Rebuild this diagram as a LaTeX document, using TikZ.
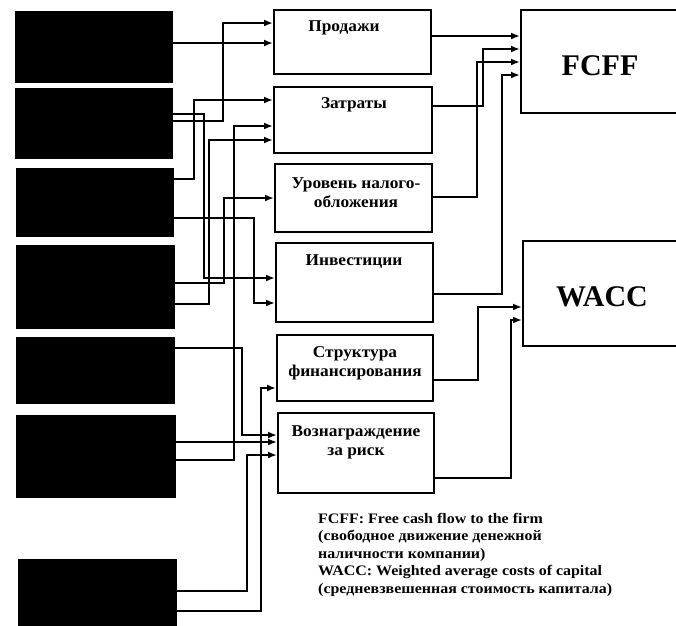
\documentclass[tikz,border=0pt]{standalone}
\usepackage{fontspec}
\setmainfont{Liberation Serif}
\newfontfamily\lblfont[FakeStretch=1.05]{Liberation Serif}
\newfontfamily\legfont[FakeStretch=1.1]{Liberation Serif}
\usetikzlibrary{arrows.meta}
\begin{document}
\begin{tikzpicture}[x=1pt,y=-1pt,
  blk/.style={draw=black,fill=black,inner sep=0pt,line width=1pt},
  wbox/.style={draw=black,fill=white,inner sep=0pt,line width=2pt},
  lbl/.style={font=\lblfont\fontsize{16.5}{19}\selectfont\bfseries,align=center,inner sep=0pt},
  big/.style={font=\fontsize{30}{34}\selectfont\bfseries,inner sep=0pt},
  legend/.style={font=\legfont\fontsize{14.5}{17.5}\selectfont\bfseries,align=left,inner sep=0pt},
  wire/.style={line width=2.2pt,-{Latex[length=9pt,width=7pt]}}
]
\useasboundingbox (0,0) rectangle (676,625);
% black source boxes
\node[blk,minimum width=157pt,minimum height=71pt] (b1) at (93.5,46.5) {};
\node[blk,minimum width=157pt,minimum height=70pt] (b2) at (93.5,123) {};
\node[blk,minimum width=157pt,minimum height=68pt] (b3) at (94.5,202) {};
\node[blk,minimum width=158pt,minimum height=83pt] (b4) at (95,286.5) {};
\node[blk,minimum width=158pt,minimum height=66pt] (b5) at (95,370) {};
\node[blk,minimum width=159pt,minimum height=82pt] (b6) at (95.5,456) {};
\node[blk,minimum width=158pt,minimum height=69pt] (b7) at (97,593.5) {};
% middle boxes
\node[wbox,minimum width=157pt,minimum height=64pt] (m1) at (352.5,42) {};
\node[wbox,minimum width=158pt,minimum height=66pt] (m2) at (353,120) {};
\node[wbox,minimum width=157pt,minimum height=68pt] (m3) at (353.5,198) {};
\node[wbox,minimum width=157pt,minimum height=79pt] (m4) at (354.5,282.5) {};
\node[wbox,minimum width=156pt,minimum height=66pt] (m5) at (355,368) {};
\node[wbox,minimum width=156pt,minimum height=80pt] (m6) at (356,453) {};
% result boxes
\node[wbox,minimum width=159pt,minimum height=103pt] (fcff) at (600.5,61.5) {};
\node[wbox,minimum width=157pt,minimum height=105pt] (wacc) at (601.5,293.5) {};
% labels
\node[lbl] (t1) at (344,28) {Продажи};
\node[lbl] (t2) at (354,105) {Затраты};
\node[lbl] (t3) at (356,192.5) {Уровень налого-\\обложения};
\node[lbl] (t4) at (354,262) {Инвестиции};
\node[lbl] (t5) at (355,363) {Структура\\финансирования};
\node[lbl] (t6) at (356,442) {Вознаграждение\\за риск};
\node[big] (tf) at (600,66) {FCFF};
\node[big] (tw) at (602,297) {WACC};
% left wiring
\draw[wire] (b1.east |- 0,43) -- (m1.west |- 0,43);
\draw[wire] (b2.east |- 0,121) -- (223,121) -- (223,23) -- (m1.west |- 0,23);
\draw[wire] (b3.east |- 0,179) -- (194,179) -- (194,100) -- (m2.west |- 0,100);
\draw[wire] (b6.east |- 0,460) -- (234,460) -- (234,126) -- (m2.west |- 0,126);
\draw[wire] (b4.east |- 0,304) -- (209,304) -- (209,140) -- (m2.west |- 0,140);
\draw[wire] (b4.east |- 0,283) -- (224,283) -- (224,198) -- (m3.west |- 0,198);
\draw[wire] (b2.east |- 0,114) -- (204,114) -- (204,278) -- (m4.west |- 0,278);
\draw[wire] (b3.east |- 0,218) -- (254,218) -- (254,303) -- (m4.west |- 0,303);
\draw[wire] (b7.east |- 0,611) -- (261,611) -- (261,388) -- (m5.west |- 0,388);
\draw[wire] (b5.east |- 0,348) -- (242,348) -- (242,435) -- (m6.west |- 0,435);
\draw[wire] (b6.east |- 0,442) -- (m6.west |- 0,442);
\draw[wire] (b7.east |- 0,591) -- (247,591) -- (247,455) -- (m6.west |- 0,455);
% right wiring
\draw[wire] (m1.east |- 0,36) -- (fcff.west |- 0,36);
\draw[wire] (m2.east |- 0,106) -- (483,106) -- (483,49) -- (fcff.west |- 0,49);
\draw[wire] (m3.east |- 0,197) -- (477,197) -- (477,62) -- (fcff.west |- 0,62);
\draw[wire] (m4.east |- 0,294) -- (502,294) -- (502,75) -- (fcff.west |- 0,75);
\draw[wire] (m5.east |- 0,380) -- (478,380) -- (478,307) -- (wacc.west |- 0,307);
\draw[wire] (m6.east |- 0,478) -- (511,478) -- (511,320) -- (wacc.west |- 0,320);
% legend
\node[legend,anchor=north west] (leg) at (318,513) {FCFF: Free cash flow to the firm\\(свободное движение денежной\\наличности компании)\\WACC: Weighted average costs of capital\\(средневзвешенная стоимость капитала)};
\end{tikzpicture}
\end{document}
